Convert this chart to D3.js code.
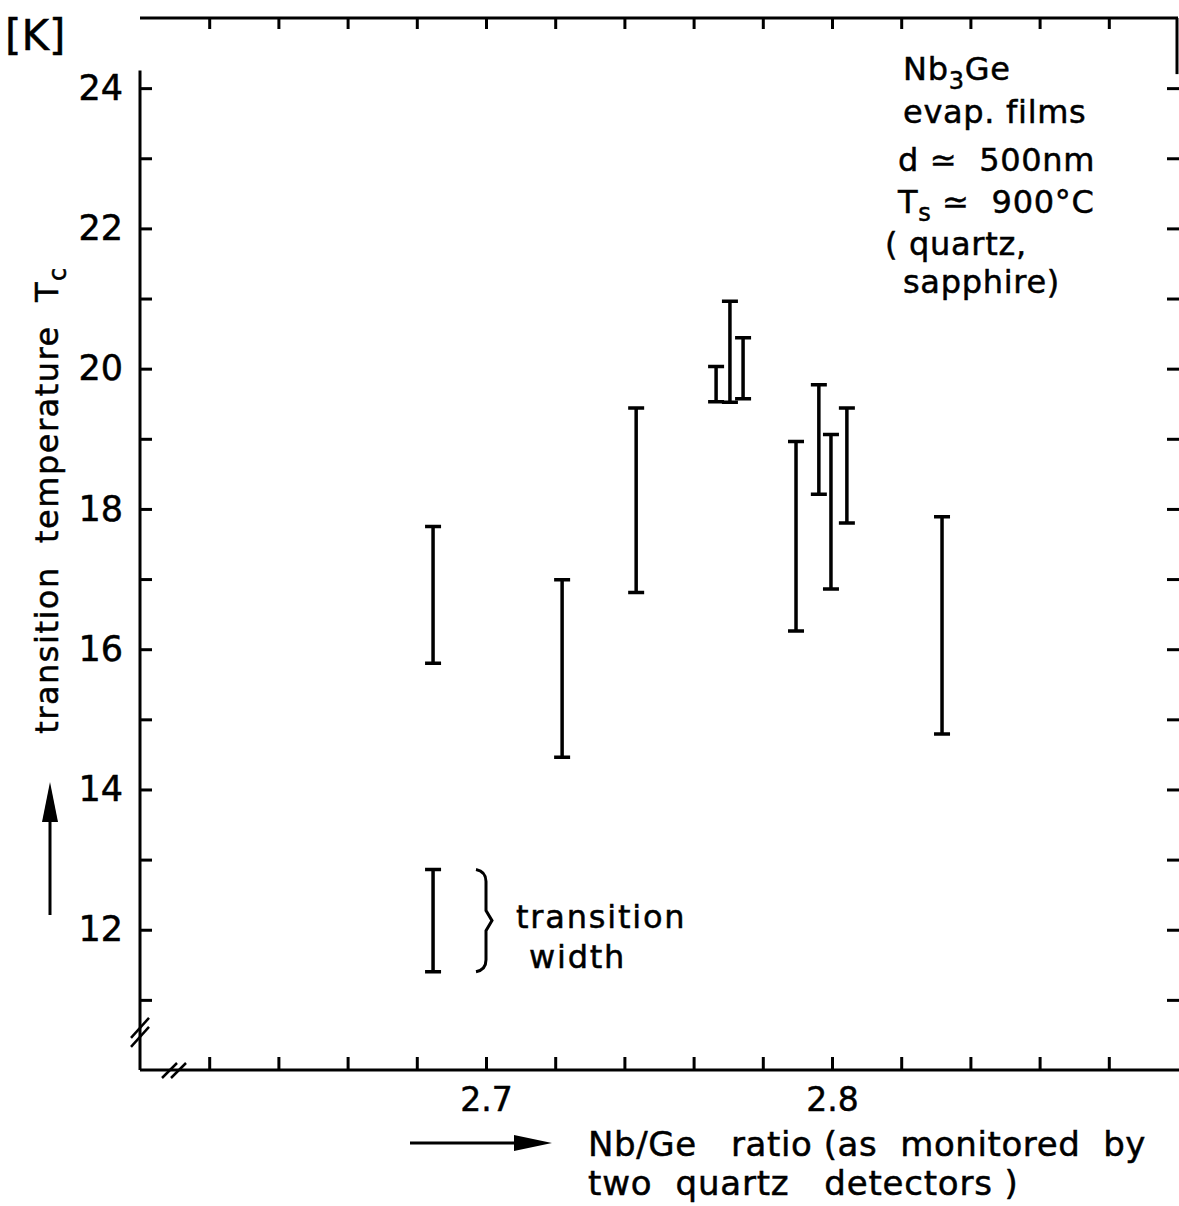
<!DOCTYPE html>
<html lang="en">
<head>
    <meta charset="UTF-8">
    <title>Nb3Ge transition temperature</title>
    <script src="https://d3js.org/d3.v7.min.js"></script>
    <style>
        html, body {
            margin: 0;
            padding: 0;
            background: #fff;
            overflow: hidden;
        }
        svg text {
            font-family: "DejaVu Sans", sans-serif;
            fill: #000;
            stroke: #000;
            stroke-width: 0.5px;
            white-space: pre;
        }
        .axis path, .axis line {
            stroke: #000;
            stroke-width: 3px;
        }
        .bar {
            stroke: #000;
            stroke-width: 3.5px;
            fill: none;
        }
    </style>
</head>
<body>
<svg width="1179" height="1206"></svg>
<script>
    // Nb/Ge ratio and Tc range (top/bottom of transition)
    const ratio  = [2.6847, 2.722, 2.7434, 2.7665, 2.7705, 2.7743, 2.7896, 2.7962, 2.7997, 2.8043, 2.8318];
    const tcHigh = [17.75, 16.99, 19.44, 20.03, 20.96, 20.44, 18.96, 19.77, 19.06, 19.44, 17.89];
    const tcLow  = [15.80, 14.46, 16.81, 19.53, 19.52, 19.57, 16.26, 18.21, 16.86, 17.80, 14.79];

    // legend bar "transition width"
    const legendBar = {x: 2.6847, hi: 12.86, lo: 11.40};

    const yTicks = d3.range(11, 25);
    const yLabels = [12, 14, 16, 18, 20, 22, 24];
    const xTicks = [2.62, 2.64, 2.66, 2.68, 2.70, 2.72, 2.74, 2.76, 2.78, 2.80, 2.82, 2.84, 2.86, 2.88];
    const xLabels = [2.7, 2.8];

    const condensed = "DejaVu Sans Condensed, DejaVu Sans, sans-serif";
    const svg = d3.select("svg");

    const x = d3.scaleLinear().domain([2.6, 2.9]).range([140, 1178]);
    const y = d3.scaleLinear().domain([10, 25]).range([1070, 18]);

    const fmtY = d => yLabels.includes(d) ? d : "";
    const fmtX = d => xLabels.some(v => Math.abs(v - d) < 1e-6) ? d3.format(".1f")(d) : "";

    // left axis
    const axLeft = svg.append("g").attr("class", "axis")
        .attr("transform", `translate(${x(2.6)},0)`)
        .call(d3.axisLeft(y).tickValues(yTicks).tickSize(-12).tickSizeOuter(0).tickPadding(17).tickFormat(fmtY));
    axLeft.select(".domain").remove();
    axLeft.selectAll("text").attr("font-size", 35).attr("font-family", condensed);
    axLeft.append("line").attr("x1", 0).attr("x2", 0).attr("y1", y(24.25)).attr("y2", y(10));

    // right axis (frame edge)
    const axRight = svg.append("g").attr("class", "axis")
        .attr("transform", `translate(${x(2.9) + 1},0)`)
        .call(d3.axisRight(y).tickValues(yTicks).tickSize(-12).tickSizeOuter(0).tickFormat(""));
    axRight.select(".domain").remove();
    axRight.append("line").attr("x1", -2).attr("x2", -2).attr("y1", y(25)).attr("y2", y(24.2));

    // bottom axis
    const axBottom = svg.append("g").attr("class", "axis")
        .attr("transform", `translate(0,${y(10)})`)
        .call(d3.axisBottom(x).tickValues(xTicks).tickSize(-13).tickSizeOuter(0).tickPadding(18).tickFormat(fmtX));
    axBottom.select(".domain").remove();
    axBottom.selectAll("text").attr("font-size", 33).attr("font-family", condensed);
    axBottom.append("line").attr("x1", x(2.6)).attr("x2", x(2.9) + 2).attr("y1", 0).attr("y2", 0);

    // top axis
    const axTop = svg.append("g").attr("class", "axis")
        .attr("transform", `translate(0,${y(25)})`)
        .call(d3.axisTop(x).tickValues(xTicks).tickSize(-11).tickSizeOuter(0).tickFormat(""));
    axTop.select(".domain").remove();
    axTop.append("line").attr("x1", x(2.6)).attr("x2", x(2.9)).attr("y1", 0).attr("y2", 0);

    // axis break marks
    const brk = svg.append("g").attr("stroke", "#000").attr("stroke-width", 2.5);
    [0, 9].forEach(o => {
        brk.append("line").attr("x1", x(2.6) - 9).attr("y1", y(10.5) + 12 - o)
            .attr("x2", x(2.6) + 9).attr("y2", y(10.5) - 8 - o);
        brk.append("line").attr("x1", x(2.6) + 22 + o).attr("y1", y(10) + 8)
            .attr("x2", x(2.6) + 37 + o).attr("y2", y(10) - 7);
    });

    // error bars
    const bars = ratio.map((r, i) => ({x: r, hi: tcHigh[i], lo: tcLow[i]}));
    bars.push(legendBar);
    const cap = 8;
    const g = svg.append("g");
    bars.forEach(d => {
        const px = x(d.x);
        g.append("path").attr("class", "bar")
            .attr("d", `M${px - cap},${y(d.hi)}H${px + cap}M${px},${y(d.hi)}V${y(d.lo)}M${px - cap},${y(d.lo)}H${px + cap}`);
    });

    // brace for legend
    const bx = x(2.7) - 10, bt = y(legendBar.hi), bb = y(legendBar.lo), bm = (bt + bb) / 2;
    svg.append("path")
        .attr("d", `M${bx},${bt} Q${bx + 10},${bt + 2} ${bx + 10},${bt + 12} V${bm - 10} L${bx + 16},${bm} L${bx + 10},${bm + 10} V${bb - 12} Q${bx + 10},${bb - 2} ${bx},${bb}`)
        .attr("fill", "none").attr("stroke", "#000").attr("stroke-width", 3);

    svg.append("text").attr("x", x(2.7) + 30).attr("y", y(12.03)).attr("font-size", 32)
        .attr("letter-spacing", 1.8).text("transition");
    svg.append("text").attr("x", x(2.7) + 43).attr("y", y(11.45)).attr("font-size", 32)
        .attr("letter-spacing", 1.8).text("width");

    // annotation box
    const ann = svg.append("g").attr("font-size", 32).attr("letter-spacing", 0.7);
    let t = ann.append("text").attr("x", 903).attr("y", 80);
    t.append("tspan").text("Nb");
    t.append("tspan").attr("dy", 9).attr("font-size", 24).text("3");
    t.append("tspan").attr("dy", -9).text("Ge");
    ann.append("text").attr("x", 903).attr("y", 123).text("evap. films");
    ann.append("text").attr("x", 898).attr("y", 171).text("d \u2243  500nm");
    t = ann.append("text").attr("x", 898).attr("y", 213);
    t.append("tspan").text("T");
    t.append("tspan").attr("dy", 8).attr("font-size", 24).text("s");
    t.append("tspan").attr("dy", -8).text(" \u2243  900\u00b0C");
    ann.append("text").attr("x", 885).attr("y", 255).text("( quartz,");
    ann.append("text").attr("x", 903).attr("y", 293).text("sapphire)");

    // [K]
    svg.append("text").attr("x", 5).attr("y", 50).attr("font-size", 42)
        .attr("font-family", condensed).text("[K]");

    // y label
    const yl = svg.append("text").attr("transform", "translate(58,500) rotate(-90)")
        .attr("text-anchor", "middle").attr("font-size", 32).attr("letter-spacing", 1.5);
    yl.append("tspan").text("transition  temperature  T");
    yl.append("tspan").attr("dy", 8).attr("font-size", 24).text("c");

    // y arrow
    svg.append("line").attr("x1", 50).attr("x2", 50).attr("y1", 915).attr("y2", 815)
        .attr("stroke", "#000").attr("stroke-width", 3);
    svg.append("path").attr("d", "M50,782 L42,822 L58,822 Z").attr("fill", "#000");

    // x label and arrow
    svg.append("line").attr("x1", 410).attr("x2", 520).attr("y1", 1143).attr("y2", 1143)
        .attr("stroke", "#000").attr("stroke-width", 3);
    svg.append("path").attr("d", "M552,1143 L514,1135 L514,1151 Z").attr("fill", "#000");
    svg.append("text").attr("x", 588).attr("y", 1156).attr("font-size", 34).attr("letter-spacing", 0.6)
        .text("Nb/Ge   ratio (as  monitored  by");
    svg.append("text").attr("x", 588).attr("y", 1195).attr("font-size", 34).attr("letter-spacing", 0.8)
        .text("two  quartz   detectors )");
</script>
</body>
</html>
